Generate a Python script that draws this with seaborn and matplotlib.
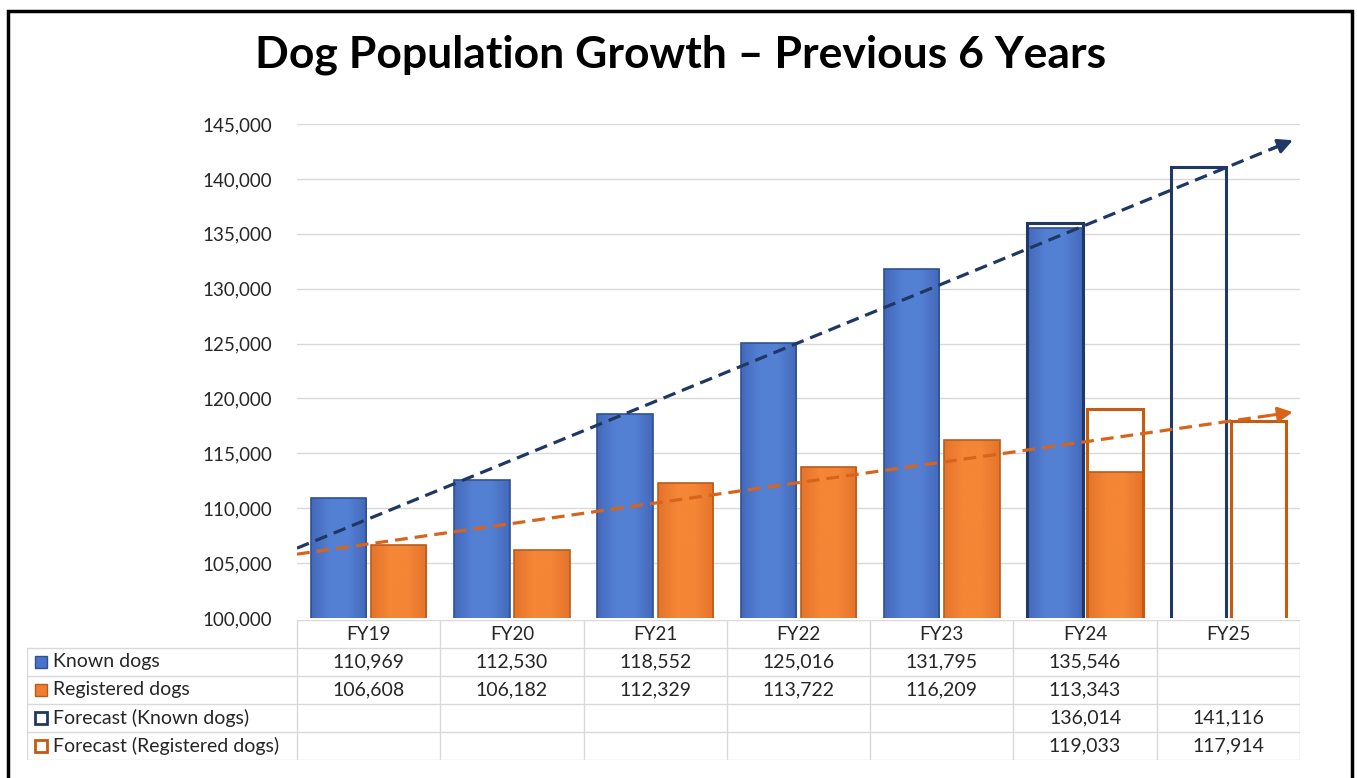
"""Dog population growth chart with data table, rebuilt with seaborn."""

import matplotlib
import matplotlib.pyplot as plt
import numpy as np
import pandas as pd
import seaborn as sns
from matplotlib.colors import LinearSegmentedColormap
from matplotlib.patches import Rectangle
from matplotlib.ticker import FuncFormatter

matplotlib.use("Agg")

# Data
years = ["FY19", "FY20", "FY21", "FY22", "FY23", "FY24", "FY25"]
known_dogs = [110969, 112530, 118552, 125016, 131795, 135546, np.nan]
registered_dogs = [106608, 106182, 112329, 113722, 116209, 113343, np.nan]
forecast_known = [np.nan, np.nan, np.nan, np.nan, np.nan, 136014, 141116]
forecast_registered = [np.nan, np.nan, np.nan, np.nan, np.nan, 119033, 117914]
series_names = [
    "Known dogs",
    "Registered dogs",
    "Forecast (Known dogs)",
    "Forecast (Registered dogs)",
]

BLUE = "#4873C9"
BLUE_EDGE = "#2F528F"
ORANGE = "#EF7D2F"
ORANGE_EDGE = "#B85C1E"
NAVY = "#1F3864"
DARK_ORANGE = "#C55A11"
TREND_ORANGE = "#D8641C"
TEXT = "#262626"

W, H = 1357, 778


def px_rect(x0, y0, x1, y1):
    """Pixel box (top-left origin) -> figure fraction [l, b, w, h]."""
    return [x0 / W, 1 - y1 / H, (x1 - x0) / W, (y1 - y0) / H]


def gradient_fill(ax, patch, dark, light):
    # Excel-style soft gradient: a bit darker at the bar edges
    cmap = LinearSegmentedColormap.from_list("g", [dark, light, light, dark])
    x0, y0 = patch.get_x(), 100000
    x1, y1 = x0 + patch.get_width(), patch.get_y() + patch.get_height()
    grad = np.linspace(0, 1, 64).reshape(1, -1)
    im = ax.imshow(grad, cmap=cmap, aspect="auto", extent=(x0, x1, y0, y1),
                   zorder=3, interpolation="bilinear")
    im.set_clip_path(patch)


def main():
    sns.set_theme(style="white")
    plt.rcParams["font.family"] = ["Lato", "DejaVu Sans"]

    actual = pd.DataFrame(
        {
            "year": years * 2,
            "series": [series_names[0]] * 7 + [series_names[1]] * 7,
            "value": known_dogs + registered_dogs,
        }
    )
    forecast = pd.DataFrame(
        {
            "year": years * 2,
            "series": [series_names[2]] * 7 + [series_names[3]] * 7,
            "value": forecast_known + forecast_registered,
        }
    )

    fig = plt.figure(figsize=(W / 100, H / 100), dpi=100)
    ax = fig.add_axes(px_rect(297, 124, 1300, 618))

    sns.barplot(
        data=actual, x="year", y="value", hue="series", order=years,
        palette=[BLUE, ORANGE], saturation=1, width=0.84, gap=0.08, ax=ax,
        legend=False, linewidth=1.2, errorbar=None, zorder=3,
    )
    for patch in list(ax.patches):
        if np.isnan(patch.get_height()) or patch.get_height() == 0:
            continue
        centre = patch.get_x() + patch.get_width() / 2
        if centre < round(centre):
            patch.set_edgecolor(BLUE_EDGE)
            gradient_fill(ax, patch, "#4469BC", "#5480D3")
        else:
            patch.set_edgecolor(ORANGE_EDGE)
            gradient_fill(ax, patch, "#E5742B", "#F48636")
        patch.set_zorder(3.5)
        patch.set_facecolor("none")

    sns.barplot(
        data=forecast, x="year", y="value", hue="series", order=years,
        palette=[NAVY, DARK_ORANGE], saturation=1, width=0.84, gap=0.08,
        fill=False, linewidth=2.2, ax=ax, legend=False, errorbar=None, zorder=4,
    )

    # Linear trend lines over the actual years, extended one period
    x_idx = np.arange(6)
    for vals, col in [(known_dogs[:6], NAVY), (registered_dogs[:6], TREND_ORANGE)]:
        slope, icpt = np.polyfit(x_idx, vals, 1)
        tip = 6.45
        ax.plot([-0.5, tip - 0.1], [icpt - 0.5 * slope, icpt + slope * (tip - 0.1)],
                color=col, lw=2.3, ls=(0, (4, 2.2)), zorder=5)
        ax.annotate(
            "", xy=(tip, icpt + slope * tip),
            xytext=(tip - 0.15, icpt + slope * (tip - 0.15)),
            arrowprops=dict(arrowstyle="-|>", color=col, lw=2.2,
                            mutation_scale=22, shrinkA=0, shrinkB=0),
            zorder=6,
        )

    ax.set_xlim(-0.5, 6.5)
    ax.set_ylim(100000, 145000)
    ax.set_yticks(np.arange(100000, 145001, 5000))
    ax.yaxis.set_major_formatter(FuncFormatter(lambda v, _: f"{v:,.0f}"))
    ax.tick_params(axis="y", length=0, pad=18, labelsize=13.5, labelcolor=TEXT)
    ax.set_xticks([])
    ax.set_xlabel("")
    ax.set_ylabel("")
    ax.grid(axis="y", color="#D9D9D9", lw=1, zorder=0)
    ax.set_axisbelow(True)
    for s in ax.spines.values():
        s.set_visible(False)

    # Data table under the plot
    label_w = (297 - 27) / ((1300 - 297) / 7)
    tab = fig.add_axes(px_rect(27, 620, 1300, 760))
    tab.set_xlim(-0.5 - label_w, 6.5)
    tab.set_ylim(5, 0)
    tab.axis("off")
    grid_c = "#D9D9D9"
    tab.plot([-0.5, 6.5], [0, 0], color=grid_c, lw=1)
    for r in range(1, 6):
        tab.plot([-0.5 - label_w, 6.5], [r, r], color=grid_c, lw=1)
    tab.plot([-0.5 - label_w] * 2, [1, 5], color=grid_c, lw=1)
    for c in range(8):
        tab.plot([c - 0.5] * 2, [0, 5], color=grid_c, lw=1)

    for i, yr in enumerate(years):
        tab.text(i, 0.5, yr, ha="center", va="center", fontsize=13.5, color=TEXT)

    rows = [known_dogs, registered_dogs, forecast_known, forecast_registered]
    markers = [(BLUE, BLUE_EDGE), (ORANGE, ORANGE_EDGE), ("white", NAVY), ("white", DARK_ORANGE)]
    for r, (name, vals, (fc, ec)) in enumerate(zip(series_names, rows, markers)):
        yc = r + 1.5
        tab.plot(-0.5 - label_w + 0.1, yc, marker="s", ms=9, mfc=fc, mec=ec,
                 mew=2 if fc == "white" else 1, clip_on=False)
        tab.text(-0.5 - label_w + 0.18, yc, name, ha="left", va="center",
                 fontsize=14, color=TEXT)
        for i, v in enumerate(vals):
            if not np.isnan(v):
                tab.text(i, yc, f"{v:,.0f}", ha="center", va="center",
                         fontsize=14, color=TEXT)

    fig.text(681 / W, 1 - 55 / H, "Dog Population Growth \u2013 Previous 6 Years",
             ha="center", va="center", fontsize=32, fontweight="bold", color="black")

    fig.patches.append(
        Rectangle((8 / W, -0.05), (1352 - 8) / W, 1.05 - 11 / H,
                  transform=fig.transFigure, fill=False, ec="black", lw=2.5)
    )

    fig.savefig("out.png", dpi=100)
    plt.close(fig)


if __name__ == "__main__":
    main()
